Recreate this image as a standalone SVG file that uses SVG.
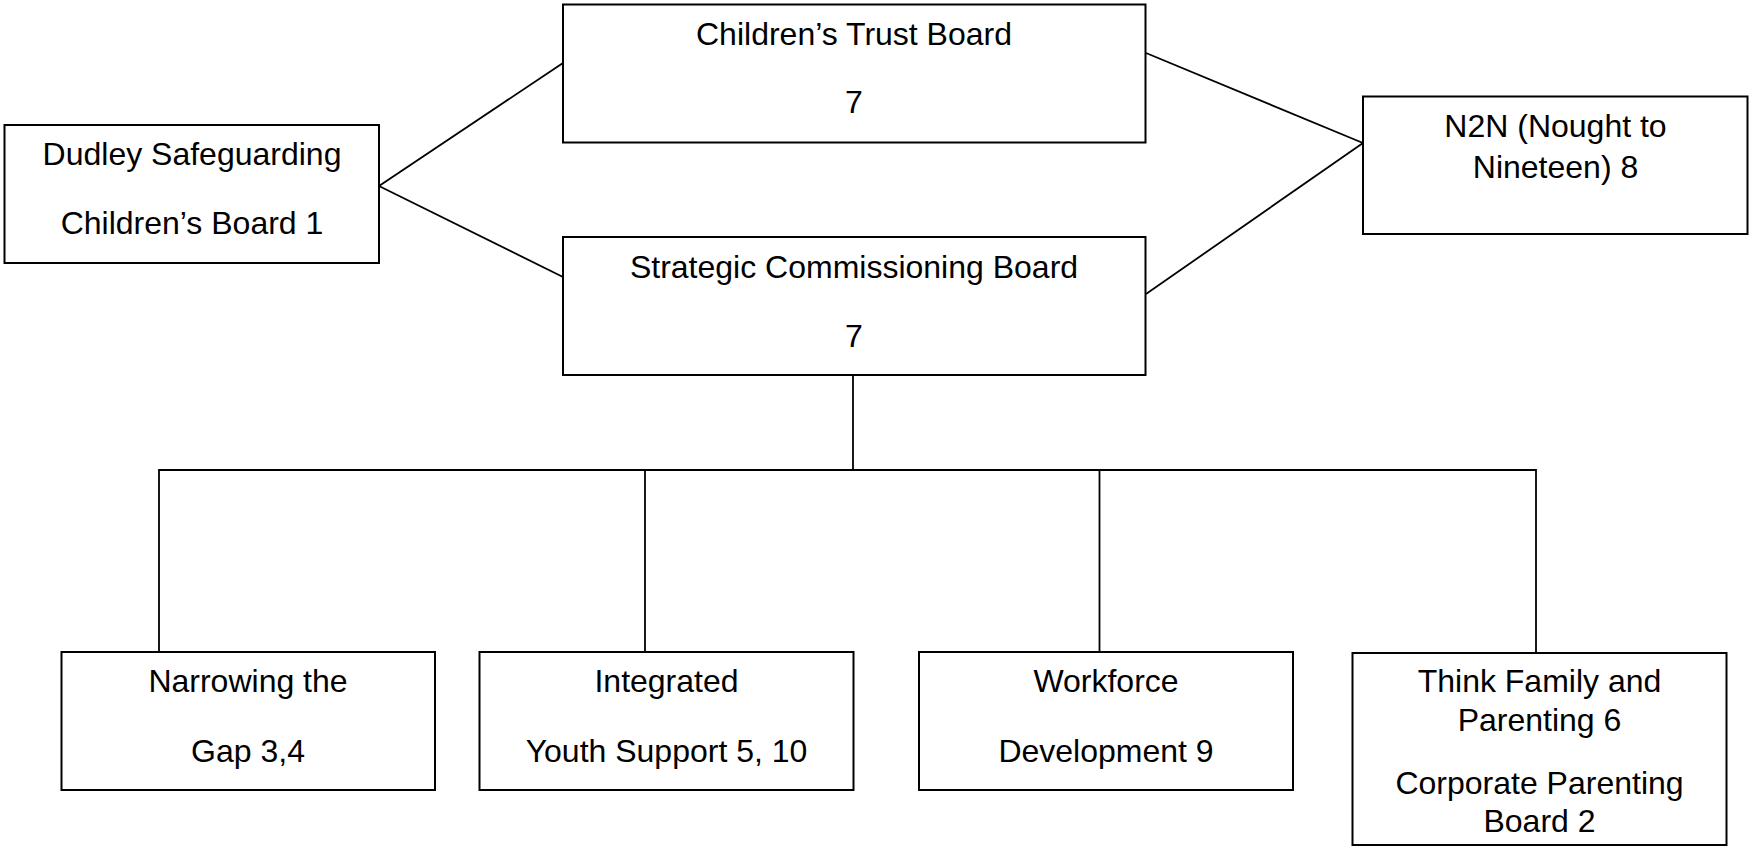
<svg xmlns="http://www.w3.org/2000/svg" width="1749" height="846" viewBox="0 0 1749 846">
<style>
.box{fill:#fff;stroke:#000;stroke-width:2}
.t{font-family:"Liberation Sans",Arial,sans-serif;font-size:32px;fill:#000;text-anchor:middle}
.c{fill:none;stroke:#000;stroke-width:1.8}
</style>
<rect width="1749" height="846" fill="#fff"/>
<g id="connectors">
<line class="c" x1="379" y1="186" x2="563" y2="63"/>
<line class="c" x1="379" y1="186" x2="563" y2="277"/>
<line class="c" x1="1146" y1="53" x2="1363" y2="143"/>
<line class="c" x1="1146" y1="294" x2="1363" y2="143"/>
<line class="c" x1="853" y1="375" x2="853" y2="470"/>
<polyline class="c" points="159,652 159,470 1536,470 1536,653"/>
<line class="c" x1="645" y1="470" x2="645" y2="652"/>
<line class="c" x1="1099.5" y1="470" x2="1099.5" y2="652"/>
</g>
<g id="dudley">
<rect class="box" x="4.5" y="125" width="374.5" height="138"/>
<text class="t" x="192" y="165">Dudley Safeguarding</text>
<text class="t" x="192" y="234">Children’s Board 1</text>
</g>
<g id="trust">
<rect class="box" x="563" y="4.5" width="582.5" height="138"/>
<text class="t" x="854" y="45">Children’s Trust Board</text>
<text class="t" x="854" y="113">7</text>
</g>
<g id="commissioning">
<rect class="box" x="563" y="237" width="582.5" height="138"/>
<text class="t" x="854" y="278">Strategic Commissioning Board</text>
<text class="t" x="854" y="347">7</text>
</g>
<g id="n2n">
<rect class="box" x="1363" y="96.5" width="384.5" height="137.5"/>
<text class="t" x="1555.5" y="137">N2N (Nought to</text>
<text class="t" x="1555.5" y="178">Nineteen) 8</text>
</g>
<g id="narrowing">
<rect class="box" x="61.5" y="652" width="373.5" height="138"/>
<text class="t" x="248" y="692">Narrowing the</text>
<text class="t" x="248" y="762">Gap 3,4</text>
</g>
<g id="youth">
<rect class="box" x="479.5" y="652" width="374" height="138"/>
<text class="t" x="666.5" y="692">Integrated</text>
<text class="t" x="666.5" y="762">Youth Support 5, 10</text>
</g>
<g id="workforce">
<rect class="box" x="919" y="652" width="374" height="138"/>
<text class="t" x="1106" y="692">Workforce</text>
<text class="t" x="1106" y="762">Development 9</text>
</g>
<g id="family">
<rect class="box" x="1352.5" y="653" width="374" height="192"/>
<text class="t" x="1539.5" y="692">Think Family and</text>
<text class="t" x="1539.5" y="731">Parenting 6</text>
<text class="t" x="1539.5" y="794">Corporate Parenting</text>
<text class="t" x="1539.5" y="832">Board 2</text>
</g>
</svg>
